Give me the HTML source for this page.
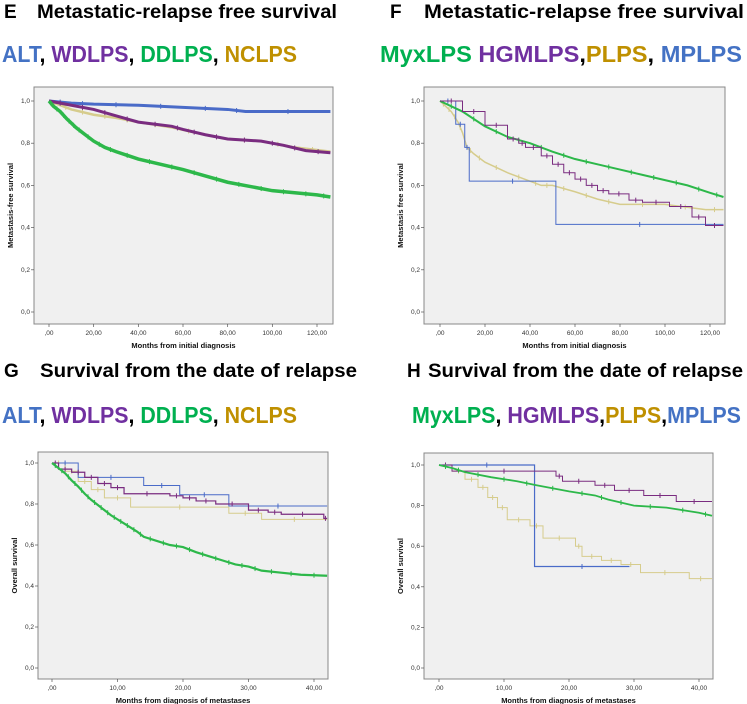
<!DOCTYPE html>
<html><head><meta charset="utf-8"><style>
body{margin:0;background:#fff;width:747px;height:704px;overflow:hidden}
svg{display:block}
.tt{font-family:"Liberation Sans",sans-serif;font-weight:bold;fill:#000}
.lg{font-family:"Liberation Sans",sans-serif;font-weight:bold}
.tk{font-family:"Liberation Sans",sans-serif;font-size:6.5px;fill:#333}
.ax{font-family:"Liberation Sans",sans-serif;font-size:7.5px;font-weight:bold;fill:#111}
</style></head><body>
<svg id="s" width="747" height="704">
<g>
<text class="tt" x="4" y="18" font-size="19">E</text>
<text class="tt" x="37" y="18" font-size="19" textLength="300" lengthAdjust="spacingAndGlyphs">Metastatic-relapse free survival</text></g>
<text class="lg" x="2" y="62" font-size="23" textLength="295" lengthAdjust="spacingAndGlyphs"><tspan fill="#4472c4">ALT</tspan><tspan fill="#000">, </tspan><tspan fill="#7030a0">WDLPS</tspan><tspan fill="#000">, </tspan><tspan fill="#00b050">DDLPS</tspan><tspan fill="#000">, </tspan><tspan fill="#bf9000">NCLPS</tspan></text>
<g>
<text class="tt" x="390" y="18" font-size="19">F</text>
<text class="tt" x="424" y="18" font-size="19" textLength="320" lengthAdjust="spacingAndGlyphs">Metastatic-relapse free survival</text></g>
<text class="lg" x="380" y="62" font-size="23" textLength="362" lengthAdjust="spacingAndGlyphs"><tspan fill="#00b050">MyxLPS </tspan><tspan fill="#7030a0">HGMLPS</tspan><tspan fill="#000">,</tspan><tspan fill="#bf9000">PLPS</tspan><tspan fill="#000">, </tspan><tspan fill="#4472c4">MPLPS</tspan></text>
<g>
<text class="tt" x="4" y="377" font-size="19">G</text>
<text class="tt" x="40" y="377" font-size="19" textLength="317" lengthAdjust="spacingAndGlyphs">Survival from the date of relapse</text></g>
<text class="lg" x="2" y="423" font-size="23" textLength="295" lengthAdjust="spacingAndGlyphs"><tspan fill="#4472c4">ALT</tspan><tspan fill="#000">, </tspan><tspan fill="#7030a0">WDLPS</tspan><tspan fill="#000">, </tspan><tspan fill="#00b050">DDLPS</tspan><tspan fill="#000">, </tspan><tspan fill="#bf9000">NCLPS</tspan></text>
<g>
<text class="tt" x="407" y="377" font-size="19">H</text>
<text class="tt" x="428" y="377" font-size="19" textLength="315" lengthAdjust="spacingAndGlyphs">Survival from the date of relapse</text></g>
<text class="lg" x="412" y="423" font-size="23" textLength="329" lengthAdjust="spacingAndGlyphs"><tspan fill="#00b050">MyxLPS</tspan><tspan fill="#000">, </tspan><tspan fill="#7030a0">HGMLPS</tspan><tspan fill="#000">,</tspan><tspan fill="#bf9000">PLPS</tspan><tspan fill="#000">,</tspan><tspan fill="#4472c4">MPLPS</tspan></text>
</svg>
<script>
// ---- data ----
const eTimes=[0,10,20,30,40,50,55,60,70,80,88,95,105,110,115,120,126];
const yTicks=[0,0.2,0.4,0.6,0.8,1.0];
const yTickLabels=["0,0","0,2","0,4","0,6","0,8","1,0"];
const xTicksLong=[0,20,40,60,80,100,120];
const xTickLabelsLong=[",00","20,00","40,00","60,00","80,00","100,00","120,00"];
const xTicksShort=[0,10,20,30,40];
const xTickLabelsShort=[",00","10,00","20,00","30,00","40,00"];

const eAltT=[0,10,20,40,60,80,88,126];
const eAltS=[1,0.99,0.985,0.98,0.97,0.96,0.95,0.95];
const eWdT=[0,10,20,30,40,55,60,70,80,95,105,115,126];
const eWdS=[1,0.98,0.96,0.93,0.90,0.88,0.865,0.84,0.82,0.81,0.79,0.765,0.755];
const eNcT=[0,5,10,20,30,40,55,70,80,95,110,126];
const eNcS=[1,0.98,0.96,0.935,0.92,0.90,0.875,0.84,0.82,0.81,0.78,0.76];
const eDdT=[0,2,5,8,10,12,15,20,25,30,40,50,60,70,80,90,100,110,120,126];
const eDdS=[1,0.975,0.95,0.915,0.895,0.875,0.85,0.81,0.78,0.76,0.725,0.70,0.675,0.645,0.615,0.595,0.575,0.565,0.555,0.545];

const fMyxT=[0,10,20,30,40,50,60,70,80,90,100,110,120,126];
const fMyxS=[1,0.95,0.88,0.83,0.80,0.76,0.725,0.70,0.675,0.65,0.625,0.60,0.565,0.545];
const fHgT=[0,10,20,30,35,38,45,50,55,60,65,70,75,84,90,102,112,118,126];
const fHgS=[1,0.95,0.885,0.82,0.80,0.78,0.74,0.70,0.66,0.63,0.60,0.575,0.56,0.53,0.52,0.50,0.45,0.41,0.41];
const fPlT=[0,3,5,8,10,12,15,20,30,40,45,50,60,70,80,100,118,126];
const fPlS=[1,0.97,0.95,0.90,0.85,0.78,0.75,0.71,0.66,0.62,0.60,0.60,0.57,0.535,0.51,0.51,0.485,0.485];
const fMpT=[0,7,11,13,51.5,126];
const fMpS=[1,0.89,0.78,0.62,0.415,0.415];

const gAltT=[0,4,14,19.5,27,42];
const gAltS=[1,0.93,0.89,0.845,0.79,0.79];
const gWdT=[0,1,3,5,7,9,11,18,20,22,25,30,33,35,41.5,42];
const gWdS=[1,0.97,0.955,0.93,0.90,0.88,0.85,0.84,0.83,0.815,0.80,0.77,0.76,0.75,0.73,0.73];
const gNcT=[0,2,4,6,8,12,27,32,42];
const gNcS=[1,0.96,0.91,0.87,0.83,0.785,0.755,0.725,0.725];
const gDdT=[0,1,2,3,4,5,6,7,8,9,10,11,12,13,14,16,18,20,22,24,26,28,30,32,35,38,42];
const gDdS=[1,0.975,0.95,0.915,0.885,0.85,0.82,0.795,0.77,0.745,0.725,0.705,0.685,0.665,0.64,0.62,0.60,0.59,0.565,0.545,0.525,0.505,0.495,0.475,0.465,0.455,0.45];

const hMyxT=[0,2,4,8,12,15,20,24,26,30,35,40,42];
const hMyxS=[1,0.985,0.965,0.94,0.92,0.90,0.87,0.85,0.83,0.80,0.79,0.765,0.75];
const hHgT=[0,2,18,19,24,27,31.5,36.5,42];
const hHgS=[1,0.97,0.945,0.92,0.90,0.875,0.85,0.82,0.82];
const hPlT=[0,2,4,6,7.5,9,10.5,14,16,21,22,25,28,31,38.5,42];
const hPlS=[1,0.97,0.93,0.89,0.84,0.79,0.73,0.70,0.64,0.60,0.55,0.53,0.51,0.47,0.44,0.44];
const hMpT=[0,14.7,29.3];
const hMpS=[1,0.5,0.5];

const BLUE="#4a6bc8",PURP="#7a2c80",GREEN="#2db84a",YEL="#d6cc8c";
const NS="http://www.w3.org/2000/svg";
const svg=document.getElementById('s');
function mk(tag,attrs,parent){const e=document.createElementNS(NS,tag);for(const k in attrs)e.setAttribute(k,attrs[k]);parent.appendChild(e);return e;}

function panel(id,box,x0px,x1px,xmax,y1px,y0px,xt,xtl,ytitle,xtitle,series){
  const g=mk('g',{},svg);
  
  
  const xs=t=>x0px+(x1px-x0px)*t/xmax;
  const ys=s=>y0px+(y1px-y0px)*s;
  const bg=mk('rect',{x:box[0],y:box[1],width:box[2]-box[0],height:box[3]-box[1],fill:'#f0f0f0',stroke:'#888','stroke-width':1},g);
  
  
  yTicks.forEach((v,i)=>{
    mk('line',{x1:box[0]-3,x2:box[0],y1:ys(v),y2:ys(v),stroke:'#555','stroke-width':0.7},g);
    const t=mk('text',{x:box[0]-4,y:ys(v)+2,'text-anchor':'end',class:'tk'},g);t.textContent=yTickLabels[i];
    
    
  });
  xt.forEach((v,i)=>{
    mk('line',{x1:xs(v),x2:xs(v),y1:box[3],y2:box[3]+3,stroke:'#555','stroke-width':0.7},g);
    const t=mk('text',{x:xs(v),y:box[3]+11,'text-anchor':'middle',class:'tk'},g);t.textContent=xtl[i];
    
    
  });
  const yt=mk('text',{x:0,y:0,'text-anchor':'middle',class:'ax',transform:`translate(${box[0]-21},${(box[1]+box[3])/2}) rotate(-90)`},g);yt.textContent=ytitle;
  
  
  const xa=mk('text',{x:(box[0]+box[2])/2,y:box[3]+24,'text-anchor':'middle',class:'ax'},g);xa.textContent=xtitle;
  
  
  series.forEach(sr=>{
    const [T,S,col,w,name,step]=sr;
    let d=`M${xs(T[0])},${ys(S[0])}`;
    for(let i=1;i<T.length;i++){
      if(step)d+=`H${xs(T[i])}V${ys(S[i])}`;else d+=`L${xs(T[i])},${ys(S[i])}`;
    }
    const p=mk('path',{d:d,fill:'none',stroke:col,'stroke-width':w},g);
    
    
    for(let i=1;i<T.length;i++){
      const xm=xs((T[i-1]+T[i])/2), ym=step?ys(S[i-1]):ys((S[i-1]+S[i])/2);
      mk('line',{x1:xm,x2:xm,y1:ym-2.5,y2:ym+2.5,stroke:col,'stroke-width':1},g);
    }
  });
}
panel('panel-e-chart',[34,87,333,324],49,317,120,101,312,xTicksLong,xTickLabelsLong,'Metastasis-free survival','Months from initial diagnosis',[
 [eNcT,eNcS,YEL,2.5,'nclps-curve',false],[eAltT,eAltS,BLUE,3,'alt-curve',false],
 [eWdT,eWdS,PURP,3,'wdlps-curve',false],[eDdT,eDdS,GREEN,3.5,'ddlps-curve',false]]);
panel('panel-f-chart',[424,87,725,324],440,710,120,101,312,xTicksLong,xTickLabelsLong,'Metastasis free survival','Months from  initial diagnosis',[
 [fPlT,fPlS,YEL,1.5,'plps-curve',false],[fMpT,fMpS,BLUE,1,'mplps-curve',true],
 [fMyxT,fMyxS,GREEN,2,'myxlps-curve',false],[fHgT,fHgS,PURP,1,'hgmlps-curve',true]]);
panel('panel-g-chart',[38,452,328,679],52,314,40,463,668,xTicksShort,xTickLabelsShort,'Overall survival','Months from diagnosis of metastases',[
 [gNcT,gNcS,YEL,1,'nclps-curve',true],[gAltT,gAltS,BLUE,1,'alt-curve',true],
 [gWdT,gWdS,PURP,1.2,'wdlps-curve',true],[gDdT,gDdS,GREEN,2.2,'ddlps-curve',false]]);
panel('panel-h-chart',[424,453,713,679],439,699,40,465,668,xTicksShort,xTickLabelsShort,'Overall survival','Months from diagnosis of metastases',[
 [hPlT,hPlS,YEL,1,'plps-curve',true],[hMpT,hMpS,BLUE,1.2,'mplps-curve',true],
 [hHgT,hHgS,PURP,1,'hgmlps-curve',true],[hMyxT,hMyxS,GREEN,1.8,'myxlps-curve',false]]);
</script>
</body></html>
